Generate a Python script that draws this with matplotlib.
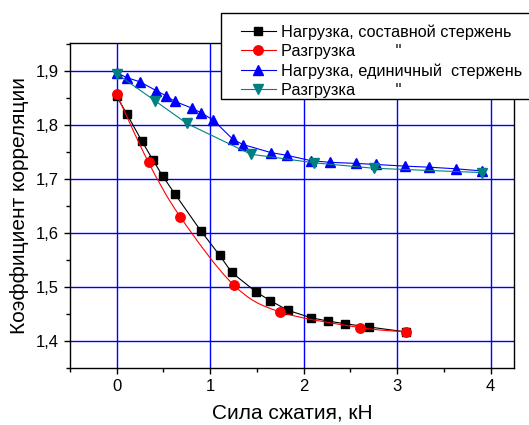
# Коэффициент корреляции vs сила сжатия
import numpy as np
import matplotlib.pyplot as plt
from matplotlib.path import Path
from matplotlib.patches import PathPatch, Rectangle
from matplotlib.lines import Line2D
from matplotlib.ticker import FuncFormatter, MultipleLocator

plt.rcParams['font.family'] = ['Liberation Sans', 'DejaVu Sans']

# 1) Данные, считанные с графика
# нагрузка, составной стержень
load_comp_x = [0.0, 0.11, 0.27, 0.385, 0.49, 0.62, 0.90, 1.10, 1.23, 1.49,
               1.64, 1.83, 2.08, 2.26, 2.44, 2.70, 3.09]
load_comp_y = [1.853, 1.820, 1.770, 1.736, 1.706, 1.673, 1.604, 1.559, 1.527, 1.491,
               1.475, 1.457, 1.443, 1.437, 1.432, 1.426, 1.417]

# разгрузка, составной стержень
unload_comp_x = [0.0, 0.34, 0.68, 1.25, 1.745, 2.60, 3.09]
unload_comp_y = [1.857, 1.731, 1.630, 1.504, 1.454, 1.425, 1.417]

# нагрузка, единичный стержень
load_single_x = [0.0, 0.107, 0.25, 0.42, 0.53, 0.62, 0.81, 0.90, 1.035, 1.24, 1.35,
                 1.65, 1.82, 2.08, 2.28, 2.56, 2.77, 3.08, 3.34, 3.63, 3.91]
load_single_y = [1.897, 1.888, 1.880, 1.864, 1.854, 1.844, 1.831, 1.823, 1.809, 1.774, 1.764,
                 1.749, 1.744, 1.734, 1.731, 1.729, 1.727, 1.724, 1.722, 1.719, 1.715]

# разгрузка, единичный стержень
unload_single_x = [0.0, 0.41, 0.75, 1.435, 2.115, 2.75, 3.91]
unload_single_y = [1.895, 1.845, 1.803, 1.746, 1.730, 1.720, 1.712]

labels = ["Нагрузка, составной стержень",
          "Разгрузка" + " " * 9 + '"',
          "Нагрузка, единичный  стержень",
          "Разгрузка" + " " * 9 + '"']

TEAL = "#008080"
W, H = 529, 425

# === ГРАФИК ===
fig = plt.figure(figsize=(5.29, 4.25), dpi=100, facecolor="white")
ax = fig.add_axes([0.1323, 0.1341, 0.8393, 0.7647])

# сетка
for gx in range(0, 5):
    ax.axvline(gx, color="#0000ff", lw=1.0, zorder=0)
for gy in [1.4, 1.5, 1.6, 1.7, 1.8, 1.9]:
    ax.axhline(gy, color="#0000ff", lw=1.0, zorder=0)


def smooth_path(xs, ys):
    # Catmull-Rom -> кубические Безье
    pts = np.column_stack([xs, ys])
    verts = [pts[0]]
    codes = [Path.MOVETO]
    n = len(pts)
    for i in range(n - 1):
        p0 = pts[i - 1] if i > 0 else pts[i]
        p1 = pts[i]
        p2 = pts[i + 1]
        p3 = pts[i + 2] if i + 2 < n else pts[i + 1]
        c1 = p1 + (p2 - p0) / 6.0
        c2 = p2 - (p3 - p1) / 6.0
        verts += [c1, c2, p2]
        codes += [Path.CURVE4] * 3
    return Path(verts, codes)


MS_SQ, MS_O, MS_TRI = 5.8, 6.8, 7.2

ax.plot(load_comp_x, load_comp_y, color="black", lw=0.8, marker="s", ms=MS_SQ,
        mec="black", mfc="black", zorder=3)

ax.add_patch(PathPatch(smooth_path(unload_comp_x, unload_comp_y), fill=False,
                       edgecolor="red", lw=0.8, zorder=4))
ax.plot(unload_comp_x, unload_comp_y, ls="none", marker="o", ms=MS_O,
        mec="red", mfc="red", zorder=4)

ax.plot(load_single_x, load_single_y, color="#0000ff", lw=0.8, marker="^", ms=MS_TRI,
        mec="#0000ff", mfc="#0000ff", zorder=3)

ax.plot(unload_single_x, unload_single_y, color=TEAL, lw=0.8, marker="v", ms=MS_TRI,
        mec=TEAL, mfc=TEAL, zorder=4)

ax.set_xlim(-0.5, 4.25)
ax.set_ylim(1.35, 1.952)

ax.xaxis.set_major_locator(MultipleLocator(1))
ax.xaxis.set_minor_locator(MultipleLocator(0.5))
ax.yaxis.set_major_locator(MultipleLocator(0.1))
ax.yaxis.set_minor_locator(MultipleLocator(0.05))
ax.yaxis.set_major_formatter(FuncFormatter(lambda v, p: f"{v:.1f}".replace(".", ",")))

ax.tick_params(which="both", direction="out", top=False, right=False,
               labelsize=12, width=1.0, pad=4)
ax.tick_params(which="major", length=4)
ax.tick_params(which="minor", length=3)
for s in ax.spines.values():
    s.set_linewidth(1.0)

ax.set_xlabel("Сила сжатия, кН", fontsize=15, labelpad=7)
ax.set_ylabel("Коэффициент корреляции", fontsize=15, labelpad=5)

# рамка легенды (выходит за правый край)
fig.add_artist(Rectangle((220.7 / W, 1 - 99.3 / H), (560 - 220.7) / W, 86 / H,
                         transform=fig.transFigure, facecolor="white",
                         edgecolor="black", lw=1.0, zorder=5, clip_on=False))

handles = [
    Line2D([], [], color="black", lw=0.8, marker="s", ms=MS_SQ),
    Line2D([], [], color="red", lw=0.8, marker="o", ms=MS_O),
    Line2D([], [], color="#0000ff", lw=0.8, marker="^", ms=MS_TRI),
    Line2D([], [], color=TEAL, lw=0.8, marker="v", ms=MS_TRI),
]
leg = fig.legend(handles, labels, loc="upper left",
                 bbox_to_anchor=(240.7 / W, 1 - 24.0 / H),
                 fontsize=11.7, frameon=False, handlelength=2.15, handletextpad=0.35,
                 labelspacing=0.27, borderpad=0, borderaxespad=0)
leg.set_zorder(6)

fig.savefig("out.png", dpi=100)
print("Saved: out.png")
